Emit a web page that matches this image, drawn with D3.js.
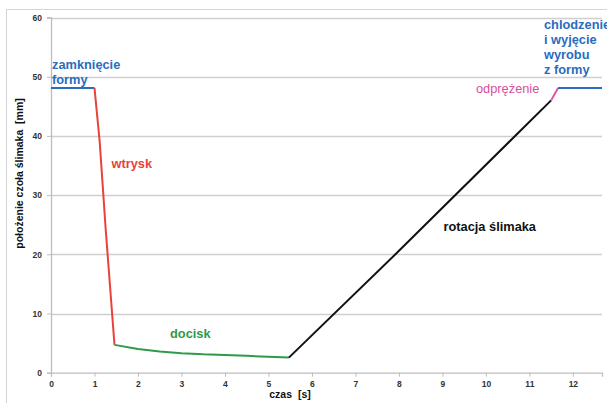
<!DOCTYPE html>
<html>
<head>
<meta charset="utf-8">
<script src="https://cdn.jsdelivr.net/npm/d3@7"></script>
<style>
  body { margin: 0; background: #fff; }
  svg { font-family: "Liberation Sans", Arial, sans-serif; display: block; }
</style>
</head>
<body>
<div id="chart"></div>
<script>
// ********** data **********
// time [s] / screw position [mm] per phase
const zamkniecie = [[0, 48.1], [1.0, 48.1]];
const wtrysk = [[1.0, 48.1], [1.12, 39], [1.26, 24], [1.46, 4.7]];
const docisk = [[1.46, 4.7], [2.0, 4.0], [2.5, 3.6], [3.0, 3.3], [3.5, 3.1], [4.0, 3.0], [4.5, 2.85], [5.0, 2.7], [5.47, 2.55]];
const rotacja = [[5.47, 2.55], [7.92, 20], [11.5, 46]];
const odprezenie = [[11.5, 46], [11.66, 48.1]];
const chlodzenie = [[11.66, 48.1], [12.67, 48.1]];
const xTicks = [0, 1, 2, 3, 4, 5, 6, 7, 8, 9, 10, 11, 12];
const yTicks = [0, 10, 20, 30, 40, 50, 60];

const W = 607, H = 403;
const svg = d3.select('#chart').append('svg')
  .attr('width', W)
  .attr('height', H);

// outer chart frame
svg.append('rect')
  .attr('x', 6.5).attr('y', 9.5)
  .attr('width', 620).attr('height', 420)
  .attr('fill', '#fff')
  .attr('stroke', '#d4d4d4');

// scales
const x = d3.scaleLinear().domain([0, 12.67]).range([51, 602]);
const y = d3.scaleLinear().domain([0, 60]).range([372.7, 17.5]);

// horizontal gridlines
svg.append('g').selectAll('line')
  .data(yTicks.filter(d => d > 0))
  .join('line')
  .attr('x1', x(0)).attr('x2', x(12.67))
  .attr('y1', d => Math.round(y(d)) + 0.5)
  .attr('y2', d => Math.round(y(d)) + 0.5)
  .attr('stroke', '#cfcfcf')
  .attr('stroke-width', 1.3);

// axes
const yAxis = svg.append('g')
  .attr('transform', `translate(${x(0)},0)`)
  .call(d3.axisLeft(y).tickValues(yTicks).tickSize(4).tickPadding(5));
const xAxis = svg.append('g')
  .attr('transform', `translate(0,${y(0)})`)
  .call(d3.axisBottom(x).tickValues(xTicks).tickSize(4).tickPadding(4));
[yAxis, xAxis].forEach(a => {
  a.select('.domain').attr('stroke', '#bdbdbd').attr('stroke-width', 1.3);
  a.selectAll('.tick line').attr('stroke', '#bdbdbd');
  a.selectAll('text')
    .attr('font-size', '8.5px')
    .attr('font-weight', 'bold')
    .attr('fill', '#333')
    .attr('font-family', '"Liberation Sans", Arial, sans-serif');
});

// phase lines
const line = d3.line().x(d => x(d[0])).y(d => y(d[1]));
const phases = [
  { data: zamkniecie, color: '#2a6dbf' },
  { data: wtrysk, color: '#e8423a' },
  { data: docisk, color: '#2f9a4a' },
  { data: rotacja, color: '#111' },
  { data: odprezenie, color: '#e0559e' },
  { data: chlodzenie, color: '#2a6dbf' }
];
svg.append('g').selectAll('path')
  .data(phases)
  .join('path')
  .attr('d', d => line(d.data))
  .attr('fill', 'none')
  .attr('stroke', d => d.color)
  .attr('stroke-width', 2)
  .attr('stroke-linejoin', 'round');

// phase labels
const label = (lines, px, py, color, weight) => {
  const t = svg.append('text')
    .attr('x', px).attr('y', py)
    .attr('font-size', '12.8px')
    .attr('font-weight', weight || 'bold')
    .attr('fill', color);
  lines.forEach((s, i) => {
    t.append('tspan').attr('x', px).attr('dy', i === 0 ? 0 : 15).text(s);
  });
};
label(['zamknięcie', 'formy'], 52, 68.5, '#2a6dbf');
label(['wtrysk'], 111.5, 168.3, '#e8423a');
label(['docisk'], 170, 338, '#2f9a4a');
label(['rotacja ślimaka'], 443.5, 230.7, '#111');
label(['odprężenie'], 476, 93.3, '#d4509a', 'normal');
label(['chlodzenie', 'i wyjęcie', 'wyrobu', 'z formy'], 544, 29.3, '#2a6dbf');

// axis titles
svg.append('text')
  .attr('transform', `translate(23,${(92 + 255) / 2}) rotate(-90)`)
  .attr('text-anchor', 'middle')
  .attr('font-size', '10.5px')
  .attr('font-weight', 'bold')
  .attr('fill', '#111')
  .style('white-space', 'pre')
  .text('położenie czoła ślimaka  [mm]');
svg.append('text')
  .attr('x', 290).attr('y', 398)
  .attr('text-anchor', 'middle')
  .attr('font-size', '10.5px')
  .attr('font-weight', 'bold')
  .attr('fill', '#111')
  .style('white-space', 'pre')
  .text('czas  [s]');
</script>
</body>
</html>
